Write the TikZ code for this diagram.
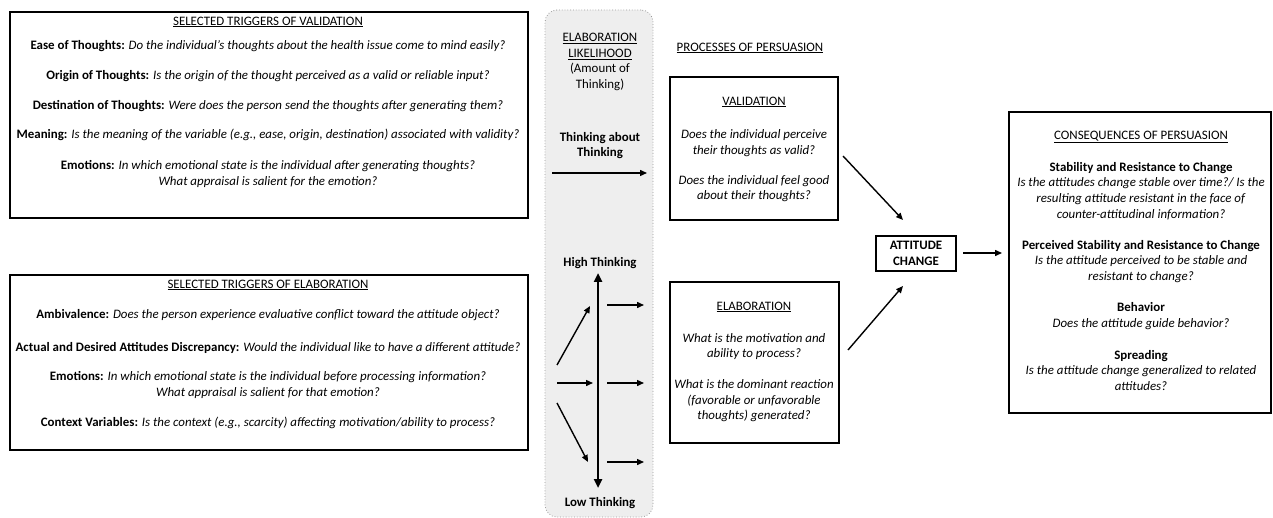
\documentclass[tikz,border=0pt]{standalone}
\usepackage{fontspec}
\setmainfont{Carlito}
\usetikzlibrary{arrows.meta}
\tikzset{
  box/.style={draw=black, line width=1.4pt, fill=white},
  txt/.style={inner sep=0pt, align=center, font=\fontsize{12.9}{15.6}\selectfont},
  arr/.style={line width=1.4pt, -{Triangle[length=7pt,width=6pt]}},
  bigarr/.style={line width=2.6pt, {Triangle[length=9pt,width=8pt]}-{Triangle[length=9pt,width=8pt]}},
}
\begin{document}
\begin{tikzpicture}[x=1pt,y=-1pt]
\useasboundingbox (0,0) rectangle (1273,518);
% gray column
\node[draw=gray!80, dotted, line width=0.8pt, fill=gray!13, rounded corners=12pt, minimum width=108pt, minimum height=507pt, inner sep=0pt] (col) at (599,263.5) {};
% boxes
\node[box, minimum width=518pt, minimum height=206pt, inner sep=0pt] (tl) at (269,115) {};
\node[box, minimum width=518pt, minimum height=175pt, inner sep=0pt] (bl) at (269,362.5) {};
\node[box, minimum width=168pt, minimum height=143pt, inner sep=0pt] (val) at (754,148.5) {};
\node[box, minimum width=169pt, minimum height=161pt, inner sep=0pt] (ela) at (754.5,362.5) {};
\node[box, minimum width=80pt, minimum height=35pt, inner sep=0pt] (att) at (916,253.5) {};
\node[box, minimum width=262pt, minimum height=301pt, inner sep=0pt] (con) at (1140,262.5) {};
% top-left texts
\node[txt] (t1) at (268,22) {\underline{SELECTED TRIGGERS OF VALIDATION}};
\node[txt] (t2) at (268,46) {\textbf{Ease of Thoughts:} \textit{Do the individual's thoughts about the health issue come to mind easily?}};
\node[txt] (t3) at (268,76) {\textbf{Origin of Thoughts:} \textit{Is the origin of the thought perceived as a valid or reliable input?}};
\node[txt] (t4) at (268,106) {\textbf{Destination of Thoughts:} \textit{Were does the person send the thoughts after generating them?}};
\node[txt] (t5) at (268,135) {\textbf{Meaning:} \textit{Is the meaning of the variable (e.g., ease, origin, destination) associated with validity?}};
\node[txt] (t6) at (268,174) {\textbf{Emotions:} \textit{In which emotional state is the individual after generating thoughts?}\\\textit{What appraisal is salient for the emotion?}};
% bottom-left texts
\node[txt] (b1) at (268,285) {\underline{SELECTED TRIGGERS OF ELABORATION}};
\node[txt] (b2) at (268,315) {\textbf{Ambivalence:} \textit{Does the person experience evaluative conflict toward the attitude object?}};
\node[txt] (b3) at (268,348) {\textbf{Actual and Desired Attitudes Discrepancy:} \textit{Would the individual like to have a different attitude?}};
\node[txt] (b4) at (268,385) {\textbf{Emotions:} \textit{In which emotional state is the individual before processing information?}\\\textit{What appraisal is salient for that emotion?}};
\node[txt] (b5) at (268,423) {\textbf{Context Variables:} \textit{Is the context (e.g., scarcity) affecting motivation/ability to process?}};
% middle column texts
\node[txt] (m1) at (600,62) {\underline{ELABORATION}\\\underline{LIKELIHOOD}\\(Amount of\\Thinking)};
\node[txt] (m2) at (600,145.5) {\textbf{Thinking about}\\\textbf{Thinking}};
\node[txt] (m3) at (600,263) {\textbf{High Thinking}};
\node[txt] (m4) at (600,503) {\textbf{Low Thinking}};
% processes
\node[txt] (p0) at (750,48) {\underline{PROCESSES OF PERSUASION}};
\node[txt] (v1) at (754,102) {\underline{VALIDATION}};
\node[txt] (v2) at (754,143) {\textit{Does the individual perceive}\\\textit{their thoughts as valid?}};
\node[txt] (v3) at (754,188.5) {\textit{Does the individual feel good}\\\textit{about their thoughts?}};
\node[txt] (e1) at (754,307) {\underline{ELABORATION}};
\node[txt] (e2) at (754,346.5) {\textit{What is the motivation and}\\\textit{ability to process?}};
\node[txt] (e3) at (754,401) {\textit{What is the dominant reaction}\\\textit{(favorable or unfavorable}\\\textit{thoughts) generated?}};
\node[txt] (a1) at (916,253.5) {\textbf{ATTITUDE}\\\textbf{CHANGE}};
% consequences
\node[txt] (c0) at (1141,137) {\underline{CONSEQUENCES OF PERSUASION}};
\node[txt] (c1) at (1141,191) {\textbf{Stability and Resistance to Change}\\\textit{Is the attitudes change stable over time?/ Is the}\\\textit{resulting attitude resistant in the face of}\\\textit{counter-attitudinal information?}};
\node[txt] (c2) at (1141,261.5) {\textbf{Perceived Stability and Resistance to Change}\\\textit{Is the attitude perceived to be stable and}\\\textit{resistant to change?}};
\node[txt] (c3) at (1141,316) {\textbf{Behavior}\\\textit{Does the attitude guide behavior?}};
\node[txt] (c4) at (1141,370.5) {\textbf{Spreading}\\\textit{Is the attitude change generalized to related}\\\textit{attitudes?}};
% arrow coordinates
\coordinate (tt1) at (552,173);
\coordinate (tt2) at (647,173);
\coordinate (vt) at (598,273);
\coordinate (vb) at (598,488);
\coordinate (ra1) at (607,305); \coordinate (ra2) at (644,305);
\coordinate (rb1) at (607,383); \coordinate (rb2) at (644,383);
\coordinate (rc1) at (607,462); \coordinate (rc2) at (644,462);
\coordinate (la1) at (557,365); \coordinate (la2) at (590,306);
\coordinate (lb1) at (557,383); \coordinate (lb2) at (593,383);
\coordinate (lc1) at (557,403); \coordinate (lc2) at (588,462);
\coordinate (va1) at (843,156); \coordinate (va2) at (903,220);
\coordinate (ea1) at (848,350); \coordinate (ea2) at (903,286);
\coordinate (ac1) at (963,253); \coordinate (ac2) at (1002,253);
% arrows
\draw[arr] (tt1) -- (tt2);
\draw[bigarr] (vt) -- (vb);
\draw[arr] (ra1) -- (ra2);
\draw[arr] (rb1) -- (rb2);
\draw[arr] (rc1) -- (rc2);
\draw[arr] (la1) -- (la2);
\draw[arr] (lb1) -- (lb2);
\draw[arr] (lc1) -- (lc2);
\draw[arr] (va1) -- (va2);
\draw[arr] (ea1) -- (ea2);
\draw[arr] (ac1) -- (ac2);
\end{tikzpicture}
\end{document}
